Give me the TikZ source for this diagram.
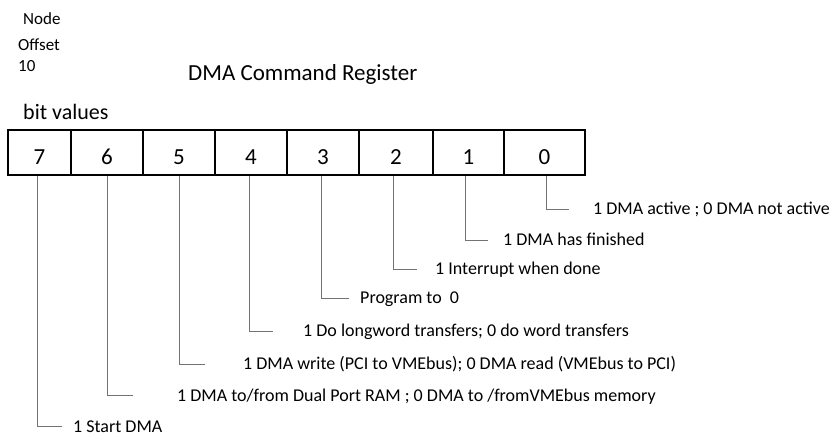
\documentclass[tikz,border=0pt]{standalone}
\usepackage{fontspec}
\setmainfont{Carlito}
\newcommand{\fs}[1]{\fontsize{#1}{#1}\selectfont}
\begin{document}
\begin{tikzpicture}[x=1pt,y=-1pt,
  cell/.style={draw=black,line width=1.6pt,minimum height=45pt,inner sep=0pt,
    text height=24pt,text depth=0pt,font=\fs{23}},
  lead/.style={draw=black!55,line width=0.9pt},
  lab/.style={anchor=base west,inner sep=0pt,font=\fs{18}},
  head/.style={anchor=base west,inner sep=0pt}]
\useasboundingbox (0,0) rectangle (835,435);
\fill[white] (0,0) rectangle (835,435);

% header texts
\node[head,font=\fs{17}] (node) at (23,25) {Node};
\node[head,font=\fs{17}] (offset) at (18,51) {Offset};
\node[head,font=\fs{17}] (ten) at (18,72) {10};
\node[head,font=\fs{23}] (title) at (188,81) {DMA Command Register};
\node[head,font=\fs{22}] (bitvals) at (23,120) {bit values};

% register cells, bit 7 on the left
\node[cell,minimum width=63pt] (c7) at (39.5,152.5) {7};
\node[cell,minimum width=72pt] (c6) at (107,152.5) {6};
\node[cell,minimum width=72pt] (c5) at (179,152.5) {5};
\node[cell,minimum width=72pt] (c4) at (251,152.5) {4};
\node[cell,minimum width=72pt] (c3) at (323,152.5) {3};
\node[cell,minimum width=74pt] (c2) at (396,152.5) {2};
\node[cell,minimum width=71pt] (c1) at (468.5,152.5) {1};
\node[cell,minimum width=81pt] (c0) at (544.5,152.5) {0};

% leader start points under each cell and their elbow ends
\coordinate (t7) at (37,176);  \coordinate (e7) at (62,426);
\coordinate (t6) at (107,176); \coordinate (e6) at (133,395);
\coordinate (t5) at (179,176); \coordinate (e5) at (205,364);
\coordinate (t4) at (249,176); \coordinate (e4) at (273,331);
\coordinate (t3) at (321,176); \coordinate (e3) at (349,298);
\coordinate (t2) at (393,176); \coordinate (e2) at (417,269);
\coordinate (t1) at (465,176); \coordinate (e1) at (488,240);
\coordinate (t0) at (546,176); \coordinate (e0) at (569,209);

% bit descriptions
\node[lab] (l0) at (593,215) {1 DMA active ; 0 DMA not active};
\node[lab] (l1) at (503,246) {1 DMA has finished};
\node[lab] (l2) at (435,275) {1 Interrupt when done};
\node[lab] (l3) at (360,304) {Program to \ 0};
\node[lab] (l4) at (303,337) {1 Do longword transfers; 0 do word transfers};
\node[lab] (l5) at (243,370) {1 DMA write (PCI to VMEbus); 0 DMA read (VMEbus to PCI)};
\node[lab] (l6) at (177,401) {1 DMA to/from Dual Port RAM ; 0 DMA to /fromVMEbus memory};
\node[lab] (l7) at (73,432) {1 Start DMA};

\foreach \b in {0,...,7}{\draw[lead] (t\b) |- (e\b);}
\end{tikzpicture}
\end{document}
